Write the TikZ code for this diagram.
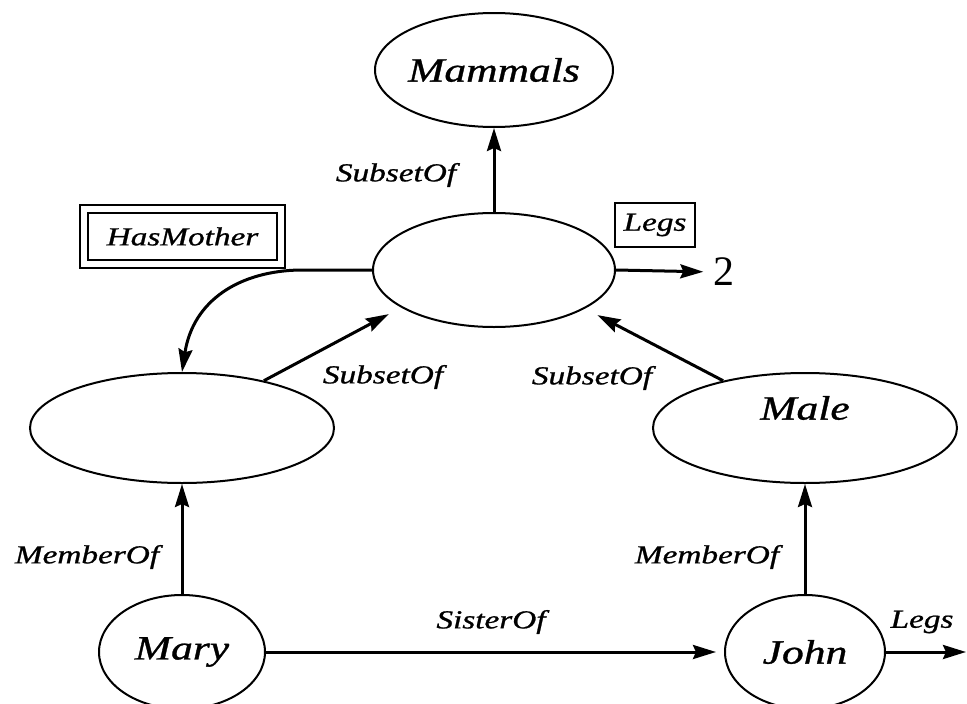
\documentclass[tikz,border=0pt]{standalone}
\usepackage{fontspec}
\usepackage{graphicx}
\setmainfont{Liberation Serif}[ItalicFeatures={FakeBold=0.8}]
\usetikzlibrary{shapes.geometric,arrows.meta}

% wide italic lettering used throughout the network
\newcommand{\wideit}[1]{\scalebox{1.28}[1]{\itshape #1}}
\newcommand{\bigname}[1]{\makebox[0pt]{\fontsize{34}{40}\selectfont\wideit{#1}}}
\newcommand{\relname}[1]{\fontsize{26}{30}\selectfont\wideit{#1}}

\begin{document}
\begin{tikzpicture}[x=1pt,y=-1pt,
  concept/.style={draw, ellipse, line width=2pt, inner sep=0pt},
  rel/.style={line width=3pt, -{Stealth[length=23pt,width=14pt,inset=3pt]}},
  lab/.style={inner sep=0pt},
  tagbox/.style={draw, line width=1.6pt, inner sep=0pt}
]
\useasboundingbox[fill=white] (0,0) rectangle (967,704);

% concept nodes
\node[concept, minimum width=238pt, minimum height=114pt] (mam) at (494,70) {\bigname{Mammals}};
\node[concept, minimum width=242pt, minimum height=114pt] (pers) at (494,270) {};
\node[concept, minimum width=304pt, minimum height=110pt] (fem) at (182,428) {};
\node[concept, minimum width=304pt, minimum height=110pt] (male) at (805,428) {};
\node[lab] (maletext) at (805,408) {\bigname{Male}};
\node[concept, minimum width=166pt, minimum height=114pt] (mary) at (182,652) {\bigname{Mary}};
\node[concept, minimum width=160pt, minimum height=114pt] (john) at (805,652) {\bigname{John}};

% attribute boxes
\node[tagbox, double, double distance=6.5pt, minimum width=197pt, minimum height=55pt] (hasm) at (182.5,236.5) {\relname{HasMother}};
\node[tagbox, minimum width=80pt, minimum height=44pt] (legsbox) at (655,225) {\relname{Legs}};
\node[lab] (two) at (724,272) {\fontsize{42}{46}\selectfont 2};
\coordinate (johnlegs) at (966,652);

% links
\draw[rel] (pers.north) -- (mam.south);
\draw[rel, shorten >=10pt] (pers.east) -- (two.west);
\draw[rel] (pers.west) -- (300,270) .. controls (240,271) and (193,300) .. (fem.north);
\draw[rel, shorten >=14pt] (fem.30) -- (pers.202);
\draw[rel, shorten >=14pt] (male.150) -- (pers.-23);
\draw[rel] (mary.north) -- (fem.south);
\draw[rel] (john.north) -- (male.south);
\draw[rel, shorten >=8pt] (mary.east) -- (john.west);
\draw[rel] (john.east) -- (johnlegs);

% link labels
\node[lab] (l1) at (396,175) {\relname{SubsetOf}};
\node[lab] (l2) at (383,377) {\relname{SubsetOf}};
\node[lab] (l3) at (592,378) {\relname{SubsetOf}};
\node[lab] (l4) at (87,557) {\relname{MemberOf}};
\node[lab] (l5) at (707,557) {\relname{MemberOf}};
\node[lab] (l6) at (491,622) {\relname{SisterOf}};
\node[lab] (l7) at (922,622) {\relname{Legs}};
\end{tikzpicture}
\end{document}
